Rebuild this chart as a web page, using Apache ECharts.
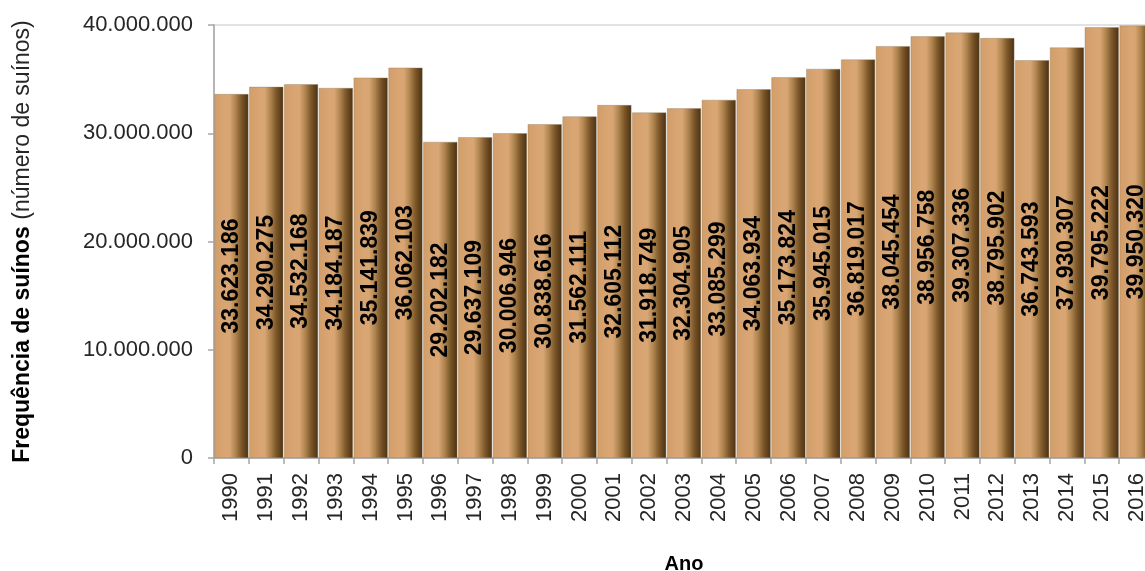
<!DOCTYPE html>
<html>
<head>
<meta charset="utf-8">
<script src="https://cdn.jsdelivr.net/npm/echarts@6/dist/echarts.min.js"></script>
<style>
  html, body { margin: 0; padding: 0; background: #fff; }
  #chart { width: 1145px; height: 571px; }
</style>
</head>
<body>
<div id="chart"></div>
<script>
const years = ['1990','1991','1992','1993','1994','1995','1996','1997','1998','1999','2000','2001','2002','2003','2004','2005','2006','2007','2008','2009','2010','2011','2012','2013','2014','2015','2016'];
const suinos = [33623186,34290275,34532168,34184187,35141839,36062103,29202182,29637109,30006946,30838616,31562111,32605112,31918749,32304905,33085299,34063934,35173824,35945015,36819017,38045454,38956758,39307336,38795902,36743593,37930307,39795222,39950320];
const yTicks = [0, 10000000, 20000000, 30000000, 40000000];

function fmt(v) {
  return String(v).replace(/\B(?=(\d{3})+(?!\d))/g, '.');
}

const chart = echarts.init(document.getElementById('chart'));
chart.setOption({
  animation: false,
  backgroundColor: '#fff',
  grid: { left: 214, right: -9, top: 25, bottom: 113, outerBoundsMode: 'none', containLabel: false, show: true, borderColor: '#d9d9d9', borderWidth: 1.5, backgroundColor: '#fff' },
  xAxis: {
    type: 'category',
    data: years,
    name: 'Ano',
    nameLocation: 'middle',
    nameGap: 96,
    nameTextStyle: { fontFamily: 'Liberation Sans, Arial', fontWeight: 'bold', fontSize: 20, color: '#000' },
    axisLine: { lineStyle: { color: '#a6a6a6', width: 1.5 } },
    axisTick: { show: true, length: 6, alignWithLabel: false, lineStyle: { color: '#a6a6a6', width: 1.5 } },
    axisLabel: { rotate: 90, margin: 15, interval: 0, fontFamily: 'Liberation Sans, Arial', fontSize: 22, color: '#262626' }
  },
  yAxis: {
    type: 'value',
    min: yTicks[0],
    max: yTicks[yTicks.length - 1],
    interval: 10000000,
    name: '{b|Frequência de suínos}  {r|(número de suínos)}',
    nameLocation: 'middle',
    nameGap: 180,
    nameTextStyle: {
      rich: {
        b: { fontFamily: 'Liberation Sans, Arial', fontWeight: 'bold', fontSize: 23, color: '#000' },
        r: { fontFamily: 'Liberation Sans, Arial', fontSize: 23, color: '#262626' }
      }
    },
    axisLine: { show: true, lineStyle: { color: '#a6a6a6', width: 1.5 } },
    axisTick: { show: true, length: 6, lineStyle: { color: '#a6a6a6', width: 1.5 } },
    splitLine: { show: false },
    axisLabel: { margin: 21, fontFamily: 'Liberation Sans, Arial', fontSize: 22, color: '#262626', formatter: v => fmt(v) }
  },
  series: [{
    type: 'bar',
    data: suinos,
    barCategoryGap: '2%',
    itemStyle: {
      color: new echarts.graphic.LinearGradient(0, 0, 1, 0, [
        { offset: 0, color: '#d29d68' },
        { offset: 0.3, color: '#d8a573' },
        { offset: 0.45, color: '#d8a674' },
        { offset: 0.62, color: '#b0854f' },
        { offset: 0.8, color: '#7a5528' },
        { offset: 1, color: '#4a3112' }
      ]),
      borderColor: 'rgba(140,120,90,0.6)',
      borderWidth: 0.6
    },
    label: {
      show: true,
      position: 'inside',
      rotate: 90,
      fontFamily: 'Liberation Sans, Arial',
      fontWeight: 'bold',
      fontSize: 23,
      color: '#000',
      formatter: p => fmt(p.value)
    }
  }]
});
</script>
</body>
</html>
